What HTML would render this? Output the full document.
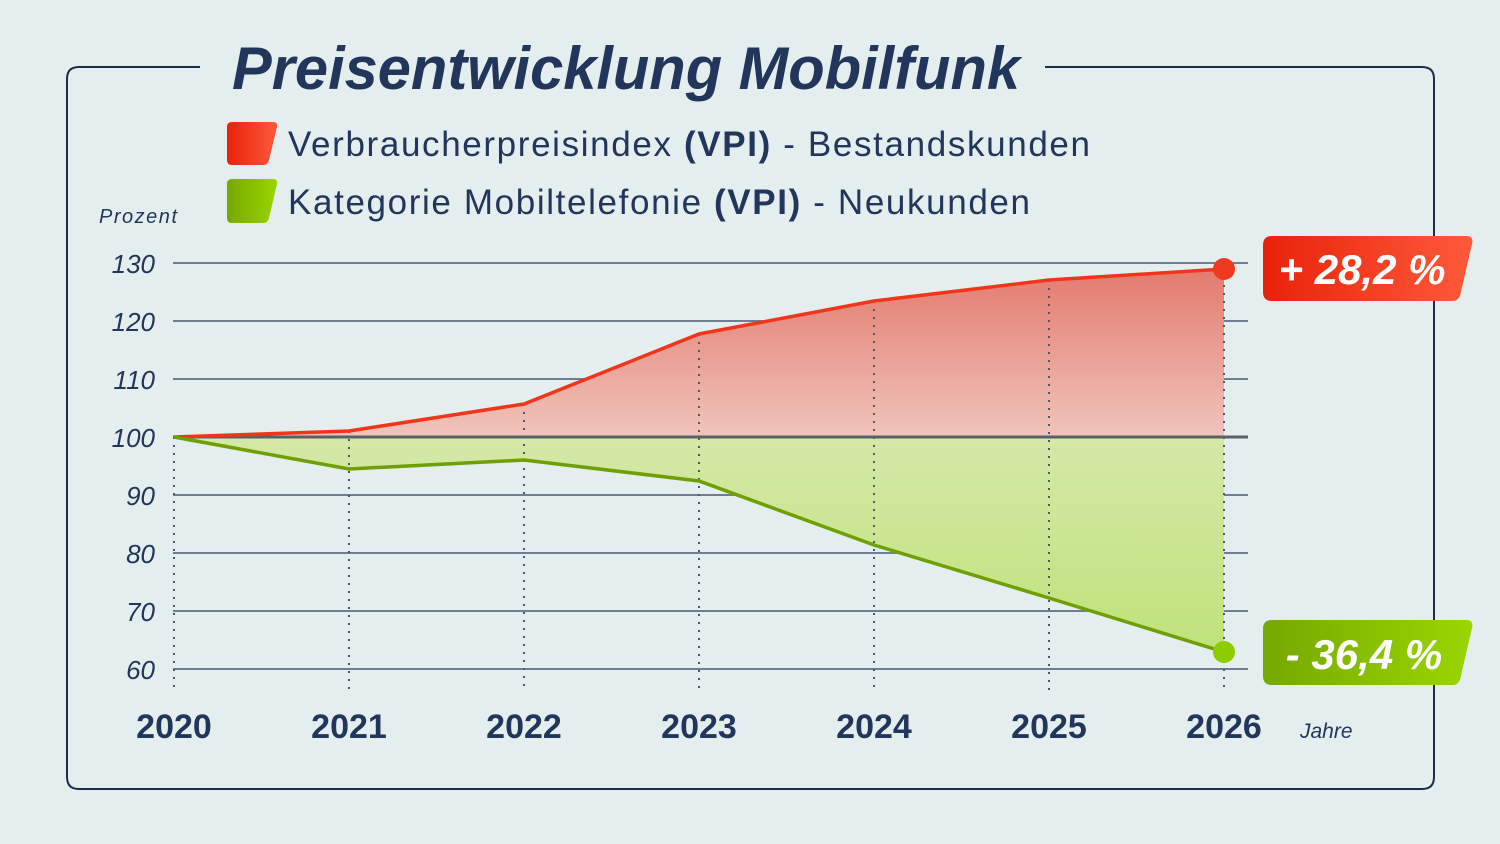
<!DOCTYPE html>
<html><head><meta charset="utf-8"><style>
body{margin:0;background:#e4eeee;}
svg{display:block;}
</style></head><body>
<svg width="1500" height="844" viewBox="0 0 1500 844" xmlns="http://www.w3.org/2000/svg" font-family="Liberation Sans, sans-serif">
<defs>
<linearGradient id="rf" x1="0" y1="0" x2="0" y2="1"><stop offset="0" stop-color="#e47a6e"/><stop offset="1" stop-color="#f0c4bb"/></linearGradient>
<linearGradient id="gf" x1="0" y1="0" x2="0" y2="1"><stop offset="0" stop-color="#d5e8a8"/><stop offset="1" stop-color="#bfe27a"/></linearGradient>
<linearGradient id="rb" x1="0" y1="0" x2="1" y2="0"><stop offset="0" stop-color="#e8220a"/><stop offset="1" stop-color="#ff5a3a"/></linearGradient>
<linearGradient id="gb" x1="0" y1="0" x2="1" y2="0"><stop offset="0" stop-color="#76a800"/><stop offset="1" stop-color="#9ad600"/></linearGradient>
</defs>
<rect width="1500" height="844" fill="#e4eeee"/>
<path d="M200 67 H79 Q67 67 67 79 V777 Q67 789 79 789 H1422 Q1434 789 1434 777 V79 Q1434 67 1422 67 H1045" fill="none" stroke="#1e2d4a" stroke-width="2"/>
<text x="232" y="89" textLength="788" lengthAdjust="spacingAndGlyphs" font-size="60" font-weight="bold" font-style="italic" fill="#22355a">Preisentwicklung Mobilfunk</text>
<path d="M232 122 H273 Q278 122 277 127 L269 160 Q268 165 263 165 H232 Q227 165 227 160 V127 Q227 122 232 122Z" fill="url(#rb)"/>
<path d="M232 179 H273 Q278 179 277 184 L269 218 Q268 223 263 223 H232 Q227 223 227 218 V184 Q227 179 232 179Z" fill="url(#gb)"/>
<text x="288" y="156" font-size="35" fill="#22355a" textLength="802" lengthAdjust="spacing">Verbraucherpreisindex <tspan font-weight="bold">(VPI)</tspan> - Bestandskunden</text>
<text x="288" y="214" font-size="35" fill="#22355a" textLength="742" lengthAdjust="spacing">Kategorie Mobiltelefonie <tspan font-weight="bold">(VPI)</tspan> - Neukunden</text>
<text x="99" y="223" font-size="20" font-style="italic" fill="#22355a" textLength="78">Prozent</text>
<g stroke="#6f7e94" stroke-width="2">
<line x1="173" y1="263" x2="1248" y2="263"/><line x1="173" y1="321" x2="1248" y2="321"/><line x1="173" y1="379" x2="1248" y2="379"/><line x1="173" y1="495" x2="1248" y2="495"/><line x1="173" y1="553" x2="1248" y2="553"/><line x1="173" y1="611" x2="1248" y2="611"/><line x1="173" y1="669" x2="1248" y2="669"/>
</g>
<g font-size="26" font-style="italic" fill="#22355a" text-anchor="end">
<text x="155" y="273">130</text><text x="155" y="331">120</text><text x="155" y="389">110</text><text x="155" y="447">100</text><text x="155" y="505">90</text><text x="155" y="563">80</text><text x="155" y="621">70</text><text x="155" y="679">60</text>
</g>
<path d="M174 437 L349 431 L524 404 L699 334 L874 301 L1049 280 L1224 269 V437Z" fill="url(#rf)"/>
<path d="M174 437 L349 469 L524 460 L699 481 L874 545 L1049 598 L1224 652 V437Z" fill="url(#gf)"/>
<g stroke="#4a5870" stroke-width="2" stroke-dasharray="2 6">
<line x1="174" y1="437" x2="174" y2="692"/><line x1="349" y1="431" x2="349" y2="692"/><line x1="524" y1="404" x2="524" y2="692"/><line x1="699" y1="334" x2="699" y2="692"/><line x1="874" y1="301" x2="874" y2="692"/><line x1="1049" y1="280" x2="1049" y2="692"/><line x1="1224" y1="269" x2="1224" y2="692"/>
</g>
<line x1="173" y1="437" x2="1248" y2="437" stroke="#5a6068" stroke-width="3"/>
<polyline points="174,437 349,431 524,404 699,334 874,301 1049,280 1224,269" fill="none" stroke="#f0361a" stroke-width="3.5"/>
<polyline points="174,437 349,469 524,460 699,481 874,545 1049,598 1224,652" fill="none" stroke="#6ea000" stroke-width="3.5"/>
<circle cx="1224" cy="269" r="11" fill="#f03a20"/>
<circle cx="1224" cy="652" r="11" fill="#8ccc00"/>
<g font-size="34" font-weight="bold" fill="#22355a" text-anchor="middle">
<text x="174" y="738">2020</text><text x="349" y="738">2021</text><text x="524" y="738">2022</text><text x="699" y="738">2023</text><text x="874" y="738">2024</text><text x="1049" y="738">2025</text><text x="1224" y="738">2026</text>
</g>
<text x="1300" y="738" font-size="21" font-style="italic" fill="#22355a">Jahre</text>
<path d="M1272 236 H1466 Q1474 236 1472 244 L1460 296 Q1458 301 1452 301 H1272 Q1263 301 1263 292 V245 Q1263 236 1272 236Z" fill="url(#rb)"/>
<path d="M1272 620 H1466 Q1474 620 1472 628 L1460 680 Q1458 685 1452 685 H1272 Q1263 685 1263 676 V629 Q1263 620 1272 620Z" fill="url(#gb)"/>
<text x="1362" y="284" text-anchor="middle" font-size="42" font-weight="bold" font-style="italic" fill="#fff">+ 28,2 %</text>
<text x="1364" y="669" text-anchor="middle" font-size="42" font-weight="bold" font-style="italic" fill="#fff">- 36,4 %</text>
</svg>
</body></html>
